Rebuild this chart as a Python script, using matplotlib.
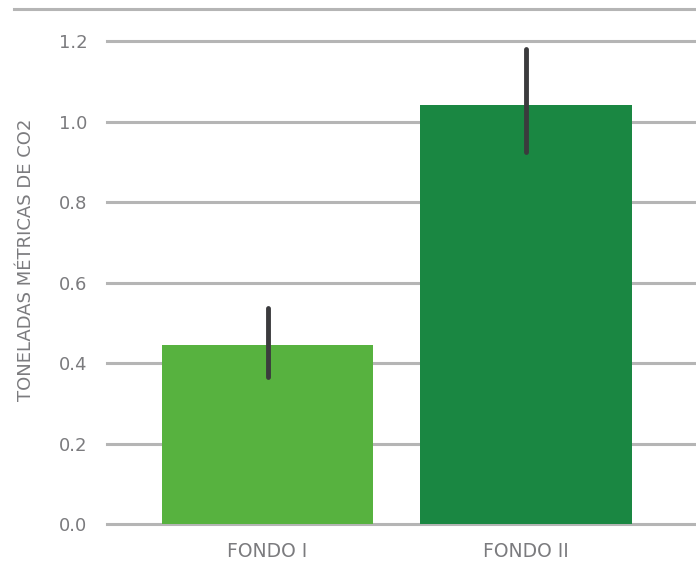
import matplotlib.pyplot as plt
from matplotlib.lines import Line2D

fondos = ['FONDO I', 'FONDO II']
toneladas = [0.445, 1.041]
err_low = [0.365, 0.924]
err_high = [0.537, 1.180]
yticks = [0.0, 0.2, 0.4, 0.6, 0.8, 1.0, 1.2]

colores = ['#57b23f', '#1a8742']
gris = '#7b7b7e'

plt.rcParams['font.family'] = ['DejaVu Sans']

fig = plt.figure(figsize=(6.96, 5.65), dpi=100)
# axes: left edge at gridline start, 0.0 at y=524px, runs off the right side
ax = fig.add_axes([107 / 696, 1 - 524 / 565, 1 - 107 / 696, (524 - 21) / 565])

x = list(range(len(fondos)))
ax.bar(x, toneladas, width=0.82, color=colores, zorder=2)
for xi, lo, hi in zip(x, err_low, err_high):
    ax.plot([xi, xi], [lo, hi], color='#3b3b3d', linewidth=3.5,
            solid_capstyle='round', zorder=3)

ax.set_xlim(-0.622, 1.659)
ax.set_ylim(0, 1.25)
ax.set_yticks(yticks)
ax.set_yticklabels(['%.1f' % t for t in yticks])
ax.set_xticks(x)
ax.set_xticklabels(fondos)
ax.yaxis.grid(True, color='#b5b5b5', linewidth=2.2, zorder=1)
ax.set_axisbelow(True)
for gl in ax.get_ygridlines():
    gl.set_clip_on(False)
for s in ax.spines.values():
    s.set_visible(False)
ax.tick_params(axis='y', length=0, pad=14, labelsize=13, labelcolor=gris)
ax.tick_params(axis='x', length=0, pad=13, labelsize=13.5, labelcolor=gris)

ax.set_ylabel('TONELADAS MÉTRICAS DE CO2', fontsize=13, color=gris)
ax.yaxis.set_label_coords((35 - 107) / 589, (524 - 260) / 503)

# top decoration line
fig.add_artist(Line2D([14 / 696, 1.0], [1 - 9 / 565, 1 - 9 / 565],
                      color='#b5b5b5', linewidth=2.2))

fig.savefig('out.png', dpi=100)
